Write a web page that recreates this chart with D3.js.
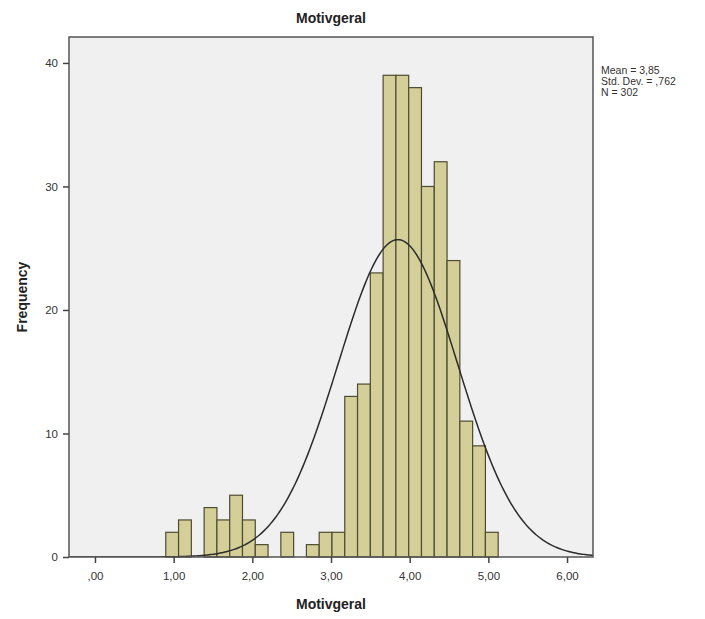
<!DOCTYPE html>
<html>
<head>
<meta charset="utf-8">
<script src="https://cdn.jsdelivr.net/npm/d3@7"></script>
<style>
  body { margin: 0; background: #fff; }
  svg { display: block; font-family: "Liberation Sans", Arial, sans-serif; }
</style>
</head>
<body>
<svg id="chart" width="705" height="619"></svg>
<script>
// Histogram bins (start, width) and counts
const binStart = 0.90;
const binWidth = 0.1625;
const counts = [2, 3, 0, 4, 3, 5, 3, 1, 0, 2, 0, 1, 2, 2, 13, 14, 23, 39, 39, 38, 30, 32, 24, 11, 9, 2];
const xTicks = [0, 1, 2, 3, 4, 5, 6];
const yTicks = [0, 10, 20, 30, 40];
const stats = { mean: 3.85, sd: 0.762, n: 302 };
const statLines = ['Mean = 3,85', 'Std. Dev. = ,762', 'N = 302'];

const svg = d3.select('#chart');
const plot = { left: 69, right: 593, top: 37, bottom: 557 };

const x = d3.scaleLinear().domain([-0.33, 6.33]).range([plot.left, plot.right]);
const y = d3.scaleLinear().domain([0, 42.1]).range([plot.bottom, plot.top]);

const fmtX = d => d3.format('.2f')(d).replace('.', ',').replace(/^0,/, ',');

// Background
svg.append('rect')
  .attr('x', plot.left).attr('y', plot.top)
  .attr('width', plot.right - plot.left).attr('height', plot.bottom - plot.top)
  .attr('fill', '#f0f0f0');

svg.append('clipPath').attr('id', 'clip')
  .append('rect')
  .attr('x', plot.left).attr('y', plot.top)
  .attr('width', plot.right - plot.left).attr('height', plot.bottom - plot.top);

// Bars
const bins = counts.map((c, i) => ({ x0: binStart + i * binWidth, x1: binStart + (i + 1) * binWidth, c }));
svg.append('g')
  .selectAll('rect')
  .data(bins.filter(b => b.c > 0))
  .join('rect')
  .attr('x', b => x(b.x0))
  .attr('y', b => y(b.c))
  .attr('width', b => x(b.x1) - x(b.x0))
  .attr('height', b => y(0) - y(b.c))
  .attr('fill', '#d4cf98')
  .attr('stroke', '#4e4b33')
  .attr('stroke-width', 1.2);

// Normal curve
const peak = stats.n * binWidth;
const curvePts = d3.range(-0.33, 6.34, 0.02).map(v => [
  v, peak * Math.exp(-0.5 * ((v - stats.mean) / stats.sd) ** 2) / (stats.sd * Math.sqrt(2 * Math.PI))
]);
svg.append('path')
  .datum(curvePts)
  .attr('clip-path', 'url(#clip)')
  .attr('fill', 'none')
  .attr('stroke', '#2b2b2b')
  .attr('stroke-width', 1.5)
  .attr('d', d3.line().x(d => x(d[0])).y(d => y(d[1])));

// Frame
svg.append('rect')
  .attr('x', plot.left).attr('y', plot.top)
  .attr('width', plot.right - plot.left).attr('height', plot.bottom - plot.top)
  .attr('fill', 'none')
  .attr('stroke', '#555')
  .attr('stroke-width', 1.5);

// Axes
svg.append('g')
  .attr('transform', `translate(0,${plot.bottom})`)
  .call(d3.axisBottom(x).tickValues(xTicks).tickSize(6).tickPadding(9).tickFormat(fmtX))
  .call(ax => ax.select('.domain').remove())
  .call(ax => ax.selectAll('line').attr('stroke', '#444').attr('stroke-width', 1.5))
  .call(ax => ax.selectAll('text').attr('fill', '#333').attr('font-size', 11.5).attr('font-family', '"Liberation Sans", Arial, sans-serif'));

svg.append('g')
  .attr('transform', `translate(${plot.left},0)`)
  .call(d3.axisLeft(y).tickValues(yTicks).tickSize(6).tickPadding(5))
  .call(ax => ax.select('.domain').remove())
  .call(ax => ax.selectAll('line').attr('stroke', '#444').attr('stroke-width', 1.5))
  .call(ax => ax.selectAll('text').attr('fill', '#333').attr('font-size', 11.5).attr('font-family', '"Liberation Sans", Arial, sans-serif'));

// Titles
svg.append('text')
  .attr('x', (plot.left + plot.right) / 2).attr('y', 23)
  .attr('text-anchor', 'middle').attr('font-size', 14).attr('font-weight', 'bold').attr('fill', '#222')
  .text('Motivgeral');

svg.append('text')
  .attr('x', (plot.left + plot.right) / 2).attr('y', 609)
  .attr('text-anchor', 'middle').attr('font-size', 14).attr('font-weight', 'bold').attr('fill', '#222')
  .text('Motivgeral');

svg.append('text')
  .attr('transform', `translate(27,${(plot.top + plot.bottom) / 2}) rotate(-90)`)
  .attr('text-anchor', 'middle').attr('font-size', 14).attr('font-weight', 'bold').attr('fill', '#222')
  .text('Frequency');

// Stats legend
svg.append('g')
  .selectAll('text')
  .data(statLines)
  .join('text')
  .attr('x', 601)
  .attr('y', (d, i) => 74 + i * 11)
  .attr('font-size', 10.5).attr('fill', '#333')
  .text(d => d);
</script>
</body>
</html>
